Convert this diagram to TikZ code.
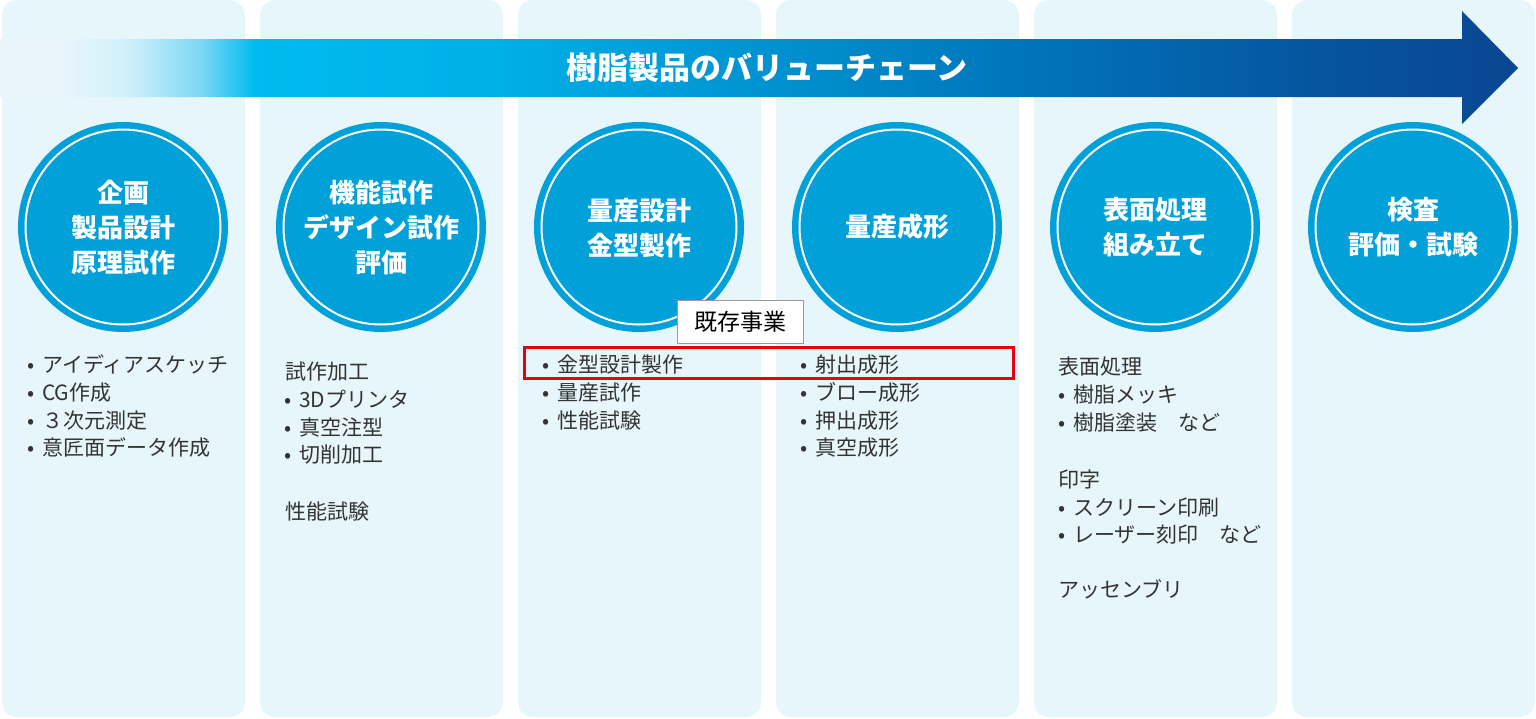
\documentclass[tikz,border=0pt]{standalone}
\usepackage{fontspec}
\newfontfamily\jp{Noto Sans CJK JP}
\definecolor{colbg}{HTML}{E7F6FB}
\definecolor{circ}{HTML}{00A0D9}
\definecolor{txt}{HTML}{333333}
\definecolor{redbox}{HTML}{E60012}
\definecolor{a0}{HTML}{E8F6FB}
\definecolor{a1}{HTML}{CDEFFA}
\definecolor{a2}{HTML}{7DD8F5}
\definecolor{a3}{HTML}{00BBEF}
\definecolor{a4}{HTML}{00AEE6}
\definecolor{a5}{HTML}{0077BD}
\definecolor{a6}{HTML}{0556A0}
\definecolor{a7}{HTML}{0A4690}
\pgfdeclarehorizontalshading{arrowshade}{100bp}{color(0bp)=(a0); color(27bp)=(a0); color(29.3bp)=(a1); color(31.6bp)=(a2); color(33.4bp)=(a3); color(42bp)=(a4); color(58bp)=(a5); color(68bp)=(a6); color(75bp)=(a7); color(100bp)=(a7)}
\newcommand{\blt}[1]{\makebox[15pt][l]{•}#1}
\begin{document}
\begin{tikzpicture}[x=1pt,y=-1pt,
  colbox/.style={fill=colbg, rounded corners=15pt},
  circnode/.style={circle, fill=circ, minimum size=210pt, inner sep=0pt},
  ring/.style={draw=white, line width=2pt},
  ctext/.style={text=white, font=\jp\bfseries\fontsize{26}{35}\selectfont, align=center, inner sep=0pt},
  titletext/.style={text=white, font=\jp\bfseries\fontsize{31}{31}\selectfont, inner sep=0pt},
  item/.style={anchor=west, text=txt, font=\jp\fontsize{21}{28}\selectfont, inner sep=0pt, text height=0.88em, text depth=0.12em, yshift=-4pt},
  hlbox/.style={draw=redbox, line width=3pt, inner sep=0pt},
  tagbox/.style={draw=black!40, fill=white, line width=1pt, inner sep=0pt, font=\jp\fontsize{23}{23}\selectfont, text=black}
]
\useasboundingbox (0,0) rectangle (1536,718);
% columns
\foreach \i in {0,...,5}
  \fill[colbox] ({2+258*\i},0) rectangle ++(243,717);
% arrow
\shade[shading=arrowshade] (0,39) -- (1462,39) -- (1462,11) -- (1518,68) -- (1462,124) -- (1462,97) -- (0,97) -- cycle;
\node[titletext] (title) at (767,68) {樹脂製品のバリューチェーン};
% circles
\foreach \i/\cx in {1/123,2/381,3/639,4/897,5/1155,6/1413}{
  \node[circnode] (c\i) at (\cx,227) {};
  \draw[ring] (c\i.center) circle[radius=97.5];
}
\node[ctext] (c1t) at (123,228) {企画\\製品設計\\原理試作};
\node[ctext] (c2t) at (381,228) {機能試作\\デザイン試作\\評価};
\node[ctext] (c3t) at (639,228) {量産設計\\金型製作};
\node[ctext] (c4t) at (897,227) {量産成形};
\node[ctext] (c5t) at (1155,227) {表面処理\\組み立て};
\node[ctext] (c6t) at (1413,227) {検査\\評価・試験};
% column 1
\node[item] (l1a) at (27,365) {\blt{アイディアスケッチ}};
\node[item] (l1b) at (27,393) {\blt{CG作成}};
\node[item] (l1c) at (27,421) {\blt{３次元測定}};
\node[item] (l1d) at (27,448) {\blt{意匠面データ作成}};
% column 2
\node[item] (l2a) at (285,372) {試作加工};
\node[item] (l2b) at (284,400) {\blt{3Dプリンタ}};
\node[item] (l2c) at (284,428) {\blt{真空注型}};
\node[item] (l2d) at (284,455) {\blt{切削加工}};
\node[item] (l2e) at (285,512) {性能試験};
% highlight
\node[hlbox, minimum width=489pt, minimum height=31pt] (hl) at (768.5,362.5) {};
% column 3
\node[item] (l3a) at (542,365) {\blt{金型設計製作}};
\node[item] (l3b) at (542,393) {\blt{量産試作}};
\node[item] (l3c) at (542,421) {\blt{性能試験}};
% column 4
\node[item] (l4a) at (800,365) {\blt{射出成形}};
\node[item] (l4b) at (800,393) {\blt{ブロー成形}};
\node[item] (l4c) at (800,421) {\blt{押出成形}};
\node[item] (l4d) at (800,448) {\blt{真空成形}};
% column 5
\node[item] (l5a) at (1058,367) {表面処理};
\node[item] (l5b) at (1058,395) {\blt{樹脂メッキ}};
\node[item] (l5c) at (1058,423) {\blt{樹脂塗装　など}};
\node[item] (l5d) at (1058,480) {印字};
\node[item] (l5e) at (1058,508) {\blt{スクリーン印刷}};
\node[item] (l5f) at (1058,535) {\blt{レーザー刻印　など}};
\node[item] (l5g) at (1058,590) {アッセンブリ};
% tag
\node[tagbox, minimum width=126pt, minimum height=43pt] (tag) at (740,321.5) {既存事業};
\end{tikzpicture}
\end{document}
